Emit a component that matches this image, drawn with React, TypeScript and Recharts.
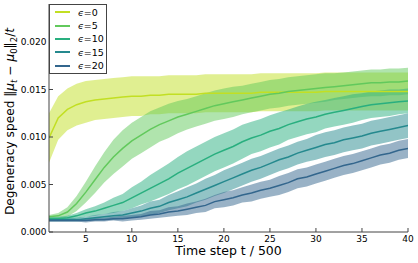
import React from 'react';
import { ComposedChart, Area, Line, XAxis, YAxis, Legend } from 'recharts';

const steps = [1, 2, 3, 4, 5, 6, 7, 8, 9, 10, 11, 12, 13, 14, 15, 16, 17, 18, 19, 20,
  21, 22, 23, 24, 25, 26, 27, 28, 29, 30, 31, 32, 33, 34, 35, 36, 37, 38, 39, 40];
const xTicks = [5, 10, 15, 20, 25, 30, 35, 40];
const yTicks = [0, 0.005, 0.01, 0.015, 0.02];
const seriesLabels = ['ϵ=0', 'ϵ=5', 'ϵ=10', 'ϵ=15', 'ϵ=20'];
const seriesColors = ['#c2df23', '#62c95c', '#29af7f', '#25898e', '#33668d'];

const mean0 = [0.0099, 0.0120, 0.0129, 0.0134, 0.0137, 0.0139, 0.0140, 0.0141, 0.0142, 0.0143,
  0.0143, 0.0144, 0.0144, 0.0145, 0.0145, 0.0145, 0.0145, 0.0146, 0.0146, 0.0146,
  0.0146, 0.0146, 0.0146, 0.0147, 0.0147, 0.0147, 0.0147, 0.0147, 0.0147, 0.0147,
  0.0148, 0.0148, 0.0148, 0.0148, 0.0148, 0.0148, 0.0148, 0.0148, 0.0148, 0.0148];
const spread0 = [0.0026, 0.0023, 0.0022, 0.0022, 0.0022, 0.0021, 0.0021, 0.0021, 0.0021, 0.0021,
  0.0021, 0.0020, 0.0020, 0.0020, 0.0020, 0.0020, 0.0020, 0.0020, 0.0020, 0.0020,
  0.0020, 0.0020, 0.0020, 0.0020, 0.0020, 0.0020, 0.0020, 0.0020, 0.0020, 0.0020,
  0.0020, 0.0020, 0.0020, 0.0020, 0.0020, 0.0020, 0.0020, 0.0020, 0.0020, 0.0020];

const mean5 = [0.0016, 0.0017, 0.0021, 0.0030, 0.0042, 0.0055, 0.0068, 0.0079, 0.0088, 0.0096,
  0.0102, 0.0108, 0.0113, 0.0117, 0.0121, 0.0124, 0.0127, 0.0130, 0.0133, 0.0135,
  0.0137, 0.0139, 0.0141, 0.0143, 0.0145, 0.0146, 0.0148, 0.0149, 0.0150, 0.0151,
  0.0152, 0.0153, 0.0154, 0.0155, 0.0156, 0.0157, 0.0157, 0.0158, 0.0158, 0.0159];
const spread5 = [0.0002, 0.0003, 0.0005, 0.0008, 0.0011, 0.0014, 0.0016, 0.0018, 0.0019, 0.0019,
  0.0019, 0.0019, 0.0018, 0.0018, 0.0017, 0.0016, 0.0016, 0.0016, 0.0016, 0.0016,
  0.0016, 0.0015, 0.0015, 0.0015, 0.0015, 0.0015, 0.0015, 0.0015, 0.0015, 0.0015,
  0.0015, 0.0014, 0.0014, 0.0014, 0.0014, 0.0014, 0.0014, 0.0014, 0.0014, 0.0014];

const mean10 = [0.0014, 0.0014, 0.0015, 0.0017, 0.0020, 0.0022, 0.0025, 0.0028, 0.0031, 0.0036,
  0.0041, 0.0046, 0.0051, 0.0056, 0.0062, 0.0067, 0.0072, 0.0077, 0.0082, 0.0086,
  0.0090, 0.0095, 0.0099, 0.0102, 0.0106, 0.0109, 0.0113, 0.0116, 0.0119, 0.0121,
  0.0124, 0.0126, 0.0128, 0.0130, 0.0132, 0.0134, 0.0135, 0.0136, 0.0137, 0.0138];
const spread10 = [0.0002, 0.0002, 0.0002, 0.0003, 0.0004, 0.0005, 0.0006, 0.0008, 0.0009, 0.0011,
  0.0012, 0.0014, 0.0015, 0.0016, 0.0017, 0.0018, 0.0018, 0.0018, 0.0018, 0.0018,
  0.0018, 0.0018, 0.0017, 0.0017, 0.0017, 0.0017, 0.0016, 0.0016, 0.0016, 0.0016,
  0.0015, 0.0015, 0.0015, 0.0015, 0.0014, 0.0014, 0.0014, 0.0014, 0.0013, 0.0013];

const mean15 = [0.0013, 0.0013, 0.0013, 0.0013, 0.0014, 0.0015, 0.0016, 0.0017, 0.0018, 0.0020,
  0.0022, 0.0025, 0.0027, 0.0031, 0.0034, 0.0037, 0.0041, 0.0045, 0.0049, 0.0053,
  0.0057, 0.0061, 0.0065, 0.0068, 0.0072, 0.0076, 0.0079, 0.0083, 0.0086, 0.0089,
  0.0092, 0.0094, 0.0097, 0.0099, 0.0101, 0.0104, 0.0106, 0.0108, 0.0110, 0.0112];
const spread15 = [0.0002, 0.0002, 0.0002, 0.0002, 0.0002, 0.0003, 0.0003, 0.0004, 0.0004, 0.0005,
  0.0006, 0.0007, 0.0007, 0.0008, 0.0009, 0.0010, 0.0010, 0.0011, 0.0011, 0.0012,
  0.0012, 0.0012, 0.0012, 0.0012, 0.0012, 0.0012, 0.0012, 0.0012, 0.0012, 0.0013,
  0.0013, 0.0013, 0.0013, 0.0013, 0.0013, 0.0013, 0.0013, 0.0013, 0.0013, 0.0013];

const mean20 = [0.0012, 0.0012, 0.0012, 0.0012, 0.0012, 0.0013, 0.0013, 0.0014, 0.0014, 0.0015,
  0.0016, 0.0018, 0.0019, 0.0021, 0.0022, 0.0024, 0.0026, 0.0028, 0.0032, 0.0034,
  0.0036, 0.0039, 0.0041, 0.0044, 0.0046, 0.0049, 0.0052, 0.0056, 0.0058, 0.0061,
  0.0064, 0.0067, 0.0070, 0.0072, 0.0075, 0.0078, 0.0081, 0.0083, 0.0086, 0.0088];
const spread20 = [0.0001, 0.0001, 0.0001, 0.0001, 0.0002, 0.0002, 0.0002, 0.0002, 0.0003, 0.0003,
  0.0003, 0.0004, 0.0004, 0.0005, 0.0005, 0.0006, 0.0006, 0.0007, 0.0007, 0.0008,
  0.0008, 0.0008, 0.0009, 0.0009, 0.0009, 0.0010, 0.0010, 0.0010, 0.0010, 0.0010,
  0.0010, 0.0010, 0.0010, 0.0010, 0.0010, 0.0010, 0.0010, 0.0010, 0.0010, 0.0010];

const means = [mean0, mean5, mean10, mean15, mean20];
const spreads = [spread0, spread5, spread10, spread15, spread20];

const data = steps.map((t, i) => {
  const row: Record<string, any> = { t };
  means.forEach((m, k) => {
    row['m' + k] = m[i];
    row['b' + k] = [m[i] - spreads[k][i], m[i] + spreads[k][i]];
  });
  return row;
});

const FONT = 'DejaVu Sans';
const FRAME = '#444';

const YLabel = (props: any) => {
  const vb = props.viewBox || { x: 0, y: 0, width: 0, height: 0 };
  const cx = vb.x + 14;
  const cy = vb.y + vb.height / 2 + 3.5;
  const sub = 2.5;
  return (
    <text
      transform={`rotate(-90 ${cx} ${cy})`}
      x={cx}
      y={cy}
      textAnchor="middle"
      fontSize={12.2}
      fill="#000"
      fontFamily={FONT}
    >
      {'Degeneracy speed '}
      <tspan>‖</tspan>
      <tspan fontStyle="italic">μ</tspan>
      <tspan dy={sub} fontSize={8.5} fontStyle="italic">t</tspan>
      <tspan dy={-sub}>{' − '}</tspan>
      <tspan fontStyle="italic">μ</tspan>
      <tspan dy={sub} fontSize={8.5}>0</tspan>
      <tspan dy={-sub}>‖</tspan>
      <tspan dy={sub} fontSize={8.5}>2</tspan>
      <tspan dy={-sub}>/</tspan>
      <tspan fontStyle="italic">t</tspan>
    </text>
  );
};

const XLabel = (props: any) => {
  const vb = props.viewBox || { x: 0, y: 0, width: 0, height: 0 };
  return (
    <text
      x={vb.x + vb.width / 2}
      y={vb.y + 23}
      textAnchor="middle"
      fontSize={12.5}
      fill="#000"
      fontFamily={FONT}
    >
      Time step t / 500
    </text>
  );
};

const LegendBox = () => (
  <div
    style={{
      boxSizing: 'border-box',
      width: 58,
      height: 70,
      border: `1px solid ${FRAME}`,
      background: '#fff',
      paddingTop: 0.5,
      fontFamily: FONT,
      fontSize: 9.5,
      color: '#000',
    }}
  >
    {seriesLabels.map((lab, k) => (
      <div key={lab} style={{ display: 'flex', alignItems: 'center', height: 13.4 }}>
        <div style={{ marginLeft: 5, width: 15, height: 2, background: seriesColors[k] }} />
        <div style={{ marginLeft: 8, lineHeight: '13.4px', whiteSpace: 'nowrap' }}>
          <span style={{ fontStyle: 'italic' }}>{lab.slice(0, 1)}</span>
          {lab.slice(1)}
        </div>
      </div>
    ))}
  </div>
);

const tickStyle = { fill: '#000', fontSize: 9, fontFamily: FONT };

export default function App() {
  return (
    <div style={{ position: 'absolute', left: 0, top: 0, background: '#fff' }}>
      <ComposedChart
        width={418}
        height={263}
        data={data}
        margin={{ top: 4, right: 10, bottom: 0, left: 0 }}
      >
        <XAxis
          dataKey="t"
          type="number"
          domain={[1, 40]}
          ticks={xTicks}
          allowDataOverflow
          height={31}
          tickSize={-4}
          tickMargin={7.5}
          tick={tickStyle}
          axisLine={{ stroke: FRAME }}
          tickLine={{ stroke: FRAME }}
          label={<XLabel />}
        />
        <XAxis
          xAxisId="top"
          orientation="top"
          dataKey="t"
          type="number"
          domain={[1, 40]}
          ticks={xTicks}
          allowDataOverflow
          height={0}
          tickSize={-4}
          tickFormatter={() => ''}
          axisLine={{ stroke: FRAME }}
          tickLine={{ stroke: FRAME }}
        />
        <YAxis
          type="number"
          domain={[0, 0.024]}
          ticks={yTicks}
          allowDataOverflow
          width={49}
          tickSize={-4}
          tickMargin={6.5}
          tick={tickStyle}
          tickFormatter={(v: number) => v.toFixed(3)}
          axisLine={{ stroke: FRAME }}
          tickLine={{ stroke: FRAME }}
          label={<YLabel />}
        />
        <YAxis
          yAxisId="right"
          orientation="right"
          type="number"
          domain={[0, 0.024]}
          ticks={yTicks}
          allowDataOverflow
          width={0}
          tickSize={-4}
          tickFormatter={() => ''}
          axisLine={{ stroke: FRAME }}
          tickLine={{ stroke: FRAME }}
        />
        {seriesLabels.map((lab, k) => (
          <Area
            key={'band' + k}
            dataKey={'b' + k}
            type="linear"
            stroke="none"
            fill={seriesColors[k]}
            fillOpacity={0.5}
            isAnimationActive={false}
            legendType="none"
            activeDot={false}
          />
        ))}
        {seriesLabels.map((lab, k) => (
          <Line
            key={'line' + k}
            dataKey={'m' + k}
            name={lab}
            type="linear"
            stroke={seriesColors[k]}
            strokeWidth={1.5}
            dot={false}
            activeDot={false}
            isAnimationActive={false}
          />
        ))}
        <Legend
          layout="vertical"
          align="center"
          verticalAlign="middle"
          wrapperStyle={{ left: 49, top: 4, width: 58, height: 70 }}
          content={() => <LegendBox />}
        />
      </ComposedChart>
    </div>
  );
}
